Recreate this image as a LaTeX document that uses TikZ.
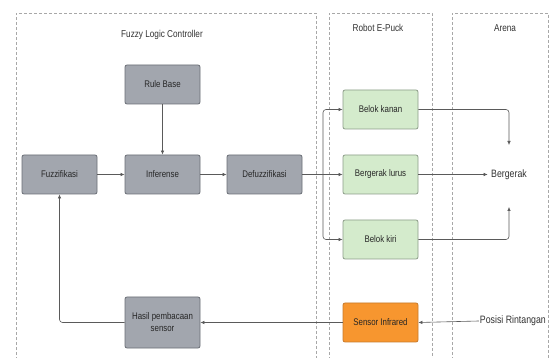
\documentclass[tikz,border=0pt]{standalone}
\usepackage{fontspec}
\setmainfont{Liberation Sans}[FakeStretch=0.82]
\usetikzlibrary{arrows.meta}
\definecolor{grayfill}{HTML}{A2A6AE}
\definecolor{grayline}{HTML}{6A6E76}
\definecolor{greenfill}{HTML}{D4EBCC}
\definecolor{greenline}{HTML}{8C9C88}
\definecolor{orangefill}{HTML}{F7962F}
\definecolor{orangeline}{HTML}{C77A2C}
\definecolor{wire}{HTML}{5A5A5A}
\definecolor{frame}{HTML}{A8A8A8}
\tikzset{
  blk/.style={rounded corners=2pt, line width=0.8pt, minimum width=75pt, minimum height=39pt,
    inner sep=2pt, align=center, font=\fontsize{9.6}{12}\selectfont, text=black!85},
  graybox/.style={blk, fill=grayfill, draw=grayline},
  greenbox/.style={blk, fill=greenfill, draw=greenline},
  orangebox/.style={blk, fill=orangefill, draw=orangeline},
  zone/.style={draw=frame, line width=0.6pt, dash pattern=on 3pt off 2pt},
  ttl/.style={font=\fontsize{10}{12}\selectfont, text=black!80},
  lbl/.style={font=\fontsize{10.7}{12}\selectfont, text=black!80},
  link/.style={draw=wire, line width=0.6pt, -{Latex[length=4pt,width=3.5pt]}}
}
\begin{document}
\begin{tikzpicture}[x=1pt,y=-1pt]
\useasboundingbox[fill=white] (0,0) rectangle (552,358);
% swimlane frames
\draw[zone] (16,370) -- (16,13) -- (316,13) -- (316,370);
\draw[zone] (329,370) -- (329,13) -- (432,13) -- (432,370);
\draw[zone] (452,370) -- (452,13) -- (548,13) -- (548,370);
\node[ttl] (tflc) at (162,35) {Fuzzy Logic Controller};
\node[ttl] (trob) at (378,28) {Robot E-Puck};
\node[ttl] (tare) at (505,28) {Arena};
% controller blocks
\node[graybox] (rule) at (162.5,84.5) {Rule Base};
\node[graybox] (fuzz) at (59.5,174.5) {Fuzzifikasi};
\node[graybox] (inf) at (162.5,174.5) {Inferense};
\node[graybox] (defz) at (264.5,174.5) {Defuzzifikasi};
\node[graybox, minimum height=51pt] (hasil) at (162.5,322.5) {Hasil pembacaan\\sensor};
% robot blocks
\node[greenbox] (kanan) at (380.5,109.5) {Belok kanan};
\node[greenbox] (lurus) at (380.5,174.5) {Bergerak lurus};
\node[greenbox] (kiri) at (380.5,239.5) {Belok kiri};
\node[orangebox] (sens) at (380.5,322.5) {Sensor Infrared};
% arena labels
\node[lbl] (gerak) at (509,174.5) {Bergerak};
\node[lbl, anchor=east, inner sep=1pt] (posisi) at (547,321) {Posisi Rintangan};
\coordinate (gtop) at (509,145);
\coordinate (gbot) at (509,207);
% connectors
\draw[link] (rule) -- (inf);
\draw[link] (fuzz) -- (inf);
\draw[link] (inf) -- (defz);
\draw[link] (defz) -- (lurus);
\coordinate (split) at (323,174.5);
\draw[link, rounded corners=3pt] (split) |- (kanan.west);
\draw[link, rounded corners=3pt] (split) |- (kiri.west);
\draw[link] (lurus) -- (gerak.west);
\draw[link, rounded corners=3pt] (kanan.east) -| (gtop);
\draw[link, rounded corners=3pt] (kiri.east) -| (gbot);
\draw[link] (posisi.west) -- (sens.east);
\draw[link] (sens) -- (hasil);
\draw[link, rounded corners=3pt] (hasil.west) -| (fuzz.south);
\end{tikzpicture}
\end{document}
